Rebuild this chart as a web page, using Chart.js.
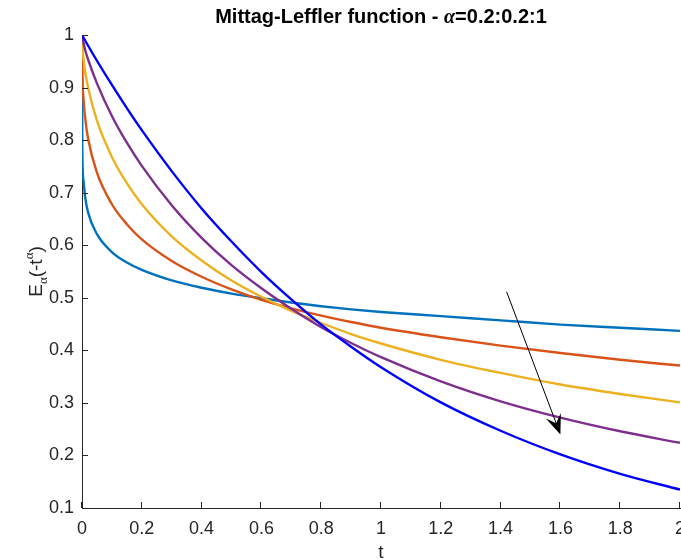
<!DOCTYPE html>
<html><head><meta charset="utf-8">
<script src="https://cdn.jsdelivr.net/npm/chart.js@4"></script>
<style>html,body{margin:0;padding:0;background:#fff;overflow:hidden}#wrap{width:681px;height:559px}</style>
</head><body><div id="wrap"><canvas id="c" width="681" height="559"></canvas></div>
<script>
// ---- data ----
const tValues = [0, 0.001, 0.005, 0.01, 0.02, 0.05, 0.1, 0.15, 0.2, 0.3, 0.4, 0.5, 0.6, 0.7, 0.8, 0.9, 1.0, 1.2, 1.4, 1.6, 1.8, 2.0];
const seriesNames = ['α = 0.2', 'α = 0.4', 'α = 0.6', 'α = 0.8', 'α = 1'];
const E02 = [1, 0.783, 0.723, 0.694, 0.663, 0.621, 0.587, 0.567, 0.553, 0.533, 0.519, 0.508, 0.499, 0.491, 0.484, 0.478, 0.473, 0.465, 0.457, 0.449, 0.443, 0.437];
const E04 = [1, 0.933, 0.879, 0.845, 0.804, 0.738, 0.678, 0.640, 0.611, 0.570, 0.540, 0.516, 0.496, 0.480, 0.466, 0.454, 0.443, 0.425, 0.409, 0.395, 0.382, 0.371];
const E06 = [1, 0.982, 0.955, 0.933, 0.901, 0.837, 0.768, 0.718, 0.678, 0.617, 0.571, 0.533, 0.502, 0.475, 0.452, 0.431, 0.413, 0.382, 0.357, 0.335, 0.317, 0.301];
const E08 = [1, 0.996, 0.985, 0.973, 0.954, 0.908, 0.846, 0.795, 0.751, 0.676, 0.614, 0.562, 0.518, 0.479, 0.444, 0.414, 0.387, 0.341, 0.303, 0.272, 0.246, 0.224];
const E10 = [1, 0.999, 0.995, 0.990, 0.980, 0.951, 0.905, 0.861, 0.819, 0.741, 0.670, 0.607, 0.549, 0.497, 0.449, 0.407, 0.368, 0.301, 0.247, 0.202, 0.165, 0.135];
const xTicks = [0, 0.2, 0.4, 0.6, 0.8, 1, 1.2, 1.4, 1.6, 1.8, 2];
const yTicks = [0.1, 0.2, 0.3, 0.4, 0.5, 0.6, 0.7, 0.8, 0.9, 1];
const titleParts = ['Mittag-Leffler function - ', 'α', '=0.2:0.2:1'];
const xTitle = 't';
const yTitleParts = ['E', 'α', '(-t', 'α', ')'];
const arrowFrom = [1.42, 0.5115];
const arrowTo = [1.6, 0.24];

// ---- styles ----
const colors = ['#0072BD', '#D95319', '#EDB120', '#7E2F8E', '#0000FF'];
const axisColor = '#262626';
const sans = '"Liberation Sans", Arial, Helvetica, sans-serif';
const serif = '"Liberation Serif", "Times New Roman", serif';

const allSeries = [E02, E04, E06, E08, E10];
const datasets = allSeries.map((vals, i) => ({
  label: seriesNames[i],
  data: tValues.map((t, j) => ({x: t, y: vals[j]})),
  borderColor: colors[i],
  backgroundColor: colors[i],
  borderWidth: 2.4,
  pointRadius: 0,
  fill: false,
  cubicInterpolationMode: 'monotone',
  order: 4 - i
}));

const overlay = {
  id: 'overlay',
  afterDatasetsDraw(chart) {
    const {ctx, chartArea: ca, scales: {x, y}} = chart;
    ctx.save();
    ctx.strokeStyle = axisColor;
    ctx.lineWidth = 1;
    ctx.beginPath();
    xTicks.forEach(v => {
      const px = Math.round(x.getPixelForValue(v)) - 0.5;
      ctx.moveTo(px, ca.bottom); ctx.lineTo(px, ca.bottom - 6);
    });
    yTicks.forEach(v => {
      const py = Math.round(y.getPixelForValue(v)) + 0.5;
      ctx.moveTo(ca.left, py); ctx.lineTo(ca.left + 6, py);
    });
    ctx.stroke();
    // arrow annotation
    const x0 = x.getPixelForValue(arrowFrom[0]), y0 = y.getPixelForValue(arrowFrom[1]);
    const x1 = x.getPixelForValue(arrowTo[0]), y1 = y.getPixelForValue(arrowTo[1]);
    const dx = x1 - x0, dy = y1 - y0, len = Math.hypot(dx, dy);
    const ux = dx / len, uy = dy / len, nx = -uy, ny = ux;
    const L = 20, W = 8;
    ctx.strokeStyle = '#000'; ctx.fillStyle = '#000'; ctx.lineWidth = 1;
    ctx.beginPath(); ctx.moveTo(x0, y0); ctx.lineTo(x1 - ux * L * 0.6, y1 - uy * L * 0.6); ctx.stroke();
    ctx.beginPath();
    ctx.moveTo(x1, y1);
    ctx.lineTo(x1 - ux * L + nx * W, y1 - uy * L + ny * W);
    ctx.lineTo(x1 - ux * L * 0.6, y1 - uy * L * 0.6);
    ctx.lineTo(x1 - ux * L - nx * W, y1 - uy * L - ny * W);
    ctx.closePath(); ctx.fill();
    ctx.restore();
  },
  afterDraw(chart) {
    const {ctx, chartArea: ca} = chart;
    const cx = (ca.left + ca.right) / 2;
    ctx.save();
    ctx.fillStyle = '#000';
    ctx.textBaseline = 'alphabetic';
    // title
    const fB = 'bold 20px ' + sans, fA = 'italic bold 20px ' + serif;
    ctx.font = fB; const w1 = ctx.measureText(titleParts[0]).width, w3 = ctx.measureText(titleParts[2]).width;
    ctx.font = fA; const w2 = ctx.measureText(titleParts[1]).width;
    let tx = cx - (w1 + w2 + w3) / 2;
    const ty = 23;
    ctx.textAlign = 'left';
    ctx.font = fB; ctx.fillText(titleParts[0], tx, ty); tx += w1;
    ctx.font = fA; ctx.fillText(titleParts[1], tx, ty); tx += w2;
    ctx.font = fB; ctx.fillText(titleParts[2], tx, ty);
    // x title
    ctx.fillStyle = axisColor;
    ctx.font = '19px ' + sans; ctx.textAlign = 'center';
    ctx.fillText(xTitle, cx, 558);
    // y title (rotated, with sub/superscript)
    const big = '19px ' + sans, small = '13px ' + serif;
    const fonts = [big, small, big, small, big];
    const offs = [0, 5, 0, -9, 0];
    const ws = yTitleParts.map((s, i) => { ctx.font = fonts[i]; return ctx.measureText(s).width; });
    const total = ws.reduce((a, b) => a + b, 0);
    ctx.translate(42, (ca.top + ca.bottom) / 2);
    ctx.rotate(-Math.PI / 2);
    ctx.textAlign = 'left';
    let px = -total / 2;
    yTitleParts.forEach((s, i) => { ctx.font = fonts[i]; ctx.fillText(s, px, offs[i]); px += ws[i]; });
    ctx.restore();
  }
};

new Chart(document.getElementById('c'), {
  type: 'line',
  data: {datasets},
  options: {
    responsive: false,
    devicePixelRatio: 1,
    animation: false,
    layout: {autoPadding: false, padding: {top: 35, right: 1, left: 0, bottom: 0}},
    plugins: {legend: {display: false}, tooltip: {enabled: false}, title: {display: false}},
    scales: {
      x: {
        type: 'linear', min: 0, max: 2,
        afterBuildTicks: s => { s.ticks = xTicks.map(v => ({value: v})); },
        afterFit: s => { s.height = 51; s.paddingLeft = 0; s.paddingRight = 0; },
        grid: {display: false, drawTicks: false},
        border: {display: true, color: axisColor, width: 1},
        ticks: {color: axisColor, font: {family: sans, size: 18}, padding: 10, maxRotation: 0, autoSkip: false,
                callback: v => String(v)}
      },
      y: {
        type: 'linear', min: 0.1, max: 1,
        afterBuildTicks: s => { s.ticks = yTicks.map(v => ({value: v})); },
        afterFit: s => { s.width = 82; s.paddingTop = 0; s.paddingBottom = 0; },
        grid: {display: false, drawTicks: false},
        border: {display: true, color: axisColor, width: 1},
        ticks: {color: axisColor, font: {family: sans, size: 18}, padding: 8, autoSkip: false,
                callback: v => String(v)}
      }
    }
  },
  plugins: [overlay]
});
</script></body></html>
